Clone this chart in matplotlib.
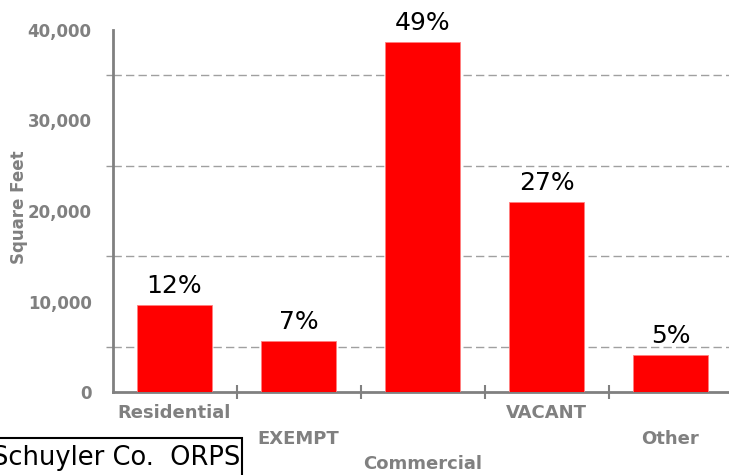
import matplotlib
matplotlib.use("Agg")
import matplotlib.pyplot as plt
from matplotlib.patches import Rectangle
from matplotlib.ticker import MultipleLocator, FixedLocator, FuncFormatter

# data
categories = ["Residential", "EXEMPT", "Commercial", "VACANT", "Other"]
square_feet = [9600, 5670, 38670, 20960, 4050]
pct_labels = ["12%", "7%", "49%", "27%", "5%"]

gray = "#808080"

fig = plt.figure(figsize=(7.29, 4.75), dpi=100)
ax = fig.add_axes([112.5 / 729, 83 / 475, 620 / 729, 362 / 475])

x = list(range(len(categories)))
bars = ax.bar(x, square_feet, width=0.6, color="#ff0000", edgecolor="#ff8080",
              linewidth=0.6, zorder=3)

ax.set_xlim(-0.5, 4.5)
ax.set_ylim(0, 40000)

# y axis
ax.yaxis.set_major_locator(MultipleLocator(10000))
ax.yaxis.set_minor_locator(FixedLocator([5000, 15000, 25000, 35000]))
ax.yaxis.set_major_formatter(FuncFormatter(lambda v, p: f"{int(v):,}"))
ax.tick_params(axis="y", which="major", length=0, pad=15, labelsize=12,
               labelcolor=gray)
ax.tick_params(axis="y", which="minor", length=5, width=1, color="#999999")
for lab in ax.get_yticklabels():
    lab.set_fontweight("bold")
ax.grid(axis="y", which="minor", color="#a0a0a0", linestyle=(0, (6, 3)),
        linewidth=1, zorder=0)

# x axis: ticks at category boundaries, labels staggered
ax.set_xticks(x)
ax.set_xticklabels([])
ax.tick_params(axis="x", which="major", length=0)
ax.xaxis.set_minor_locator(FixedLocator([0.5, 1.5, 2.5, 3.5]))
ax.tick_params(axis="x", which="minor", direction="inout", length=10,
               width=1.5, color=gray)

offsets = [-18.7, -37.4, -55.4]
for i, name in enumerate(categories):
    ax.annotate(name, xy=(i, 0), xytext=(0, offsets[i % 3]),
                textcoords="offset points", ha="center", va="baseline",
                fontsize=13, fontweight="bold", color=gray,
                annotation_clip=False)

for spine in ["top", "right"]:
    ax.spines[spine].set_visible(False)
for spine in ["left", "bottom"]:
    ax.spines[spine].set_color(gray)
    ax.spines[spine].set_linewidth(2)

# percent labels on top of bars
for b, p in zip(bars, pct_labels):
    ax.annotate(p, xy=(b.get_x() + b.get_width() / 2, b.get_height()),
                xytext=(0, 8.6), textcoords="offset points", ha="center",
                va="baseline", fontsize=18, color="black")

fig.text(19 / 729, (475 - 207) / 475, "Square Feet", rotation=90,
         ha="center", va="center", fontsize=12, fontweight="bold", color=gray)

# source box bottom-left
fig.patches.append(Rectangle((-0.05, -0.05), 0.05 + 242 / 729,
                             0.05 + (475 - 438) / 475,
                             transform=fig.transFigure, fill=False,
                             edgecolor="black", linewidth=1.5))
fig.text(240 / 729, (475 - 465) / 475, "Schuyler Co.  ORPS", ha="right",
         va="baseline", fontsize=18.5, color="black")

fig.savefig("out.png", dpi=100)
